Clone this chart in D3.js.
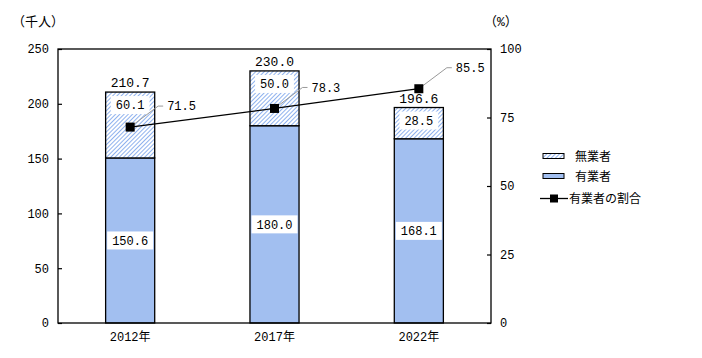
<!DOCTYPE html>
<html><head><meta charset="utf-8">
<script src="https://cdn.jsdelivr.net/npm/d3@7"></script>
<style>
body{margin:0;background:#fff;}
text{font-family:"Liberation Mono","Noto Sans CJK JP",monospace;font-size:12px;fill:#000;}
</style></head>
<body><svg id="c" width="702" height="358"></svg>
<script>
const categories = ["2012年","2017年","2022年"];
const employed = [150.6, 180.0, 168.1];
const unemployed = [60.1, 50.0, 28.5];
const totals = [210.7, 230.0, 196.6];
const ratio = [71.5, 78.3, 85.5];
const leftTicks = [0,50,100,150,200,250];
const rightTicks = [0,25,50,75,100];
const seriesNames = ["無業者","有業者","有業者の割合"];

const svg = d3.select("#c");
const L=58, R=491, T=49, B=323;
const x = d3.scaleBand().domain(categories).range([L,R]).paddingInner(0.66).paddingOuter(0.33);
const y = d3.scaleLinear().domain([0,250]).range([B,T]);
const y2 = d3.scaleLinear().domain([0,100]).range([B,T]);

const defs = svg.append("defs");
const pat = defs.append("pattern").attr("id","hatchp").attr("patternUnits","userSpaceOnUse")
  .attr("width",3).attr("height",3).attr("patternTransform","rotate(45)");
pat.append("rect").attr("x",0).attr("y",0).attr("width",3).attr("height",3).attr("fill","#ffffff");
pat.append("rect").attr("x",0).attr("y",0).attr("width",1).attr("height",3).attr("fill","#8fb2ee");

const blue = "#a2bff0";
const bw = x.bandwidth();

// bars
const g = svg.append("g");
categories.forEach((c,i)=>{
  g.append("rect").attr("x",x(c)).attr("y",y(employed[i])).attr("width",bw).attr("height",B-y(employed[i]))
    .attr("fill",blue).attr("stroke","#000").attr("stroke-width",1.3);
  g.append("rect").attr("x",x(c)).attr("y",y(totals[i])).attr("width",bw).attr("height",y(employed[i])-y(totals[i]))
    .attr("fill","url(#hatchp)").attr("stroke","#000").attr("stroke-width",1.3);
});

// frame
svg.append("rect").attr("x",L).attr("y",T).attr("width",R-L).attr("height",B-T)
  .attr("fill","none").attr("stroke","#000").attr("stroke-width",1.3);

// axes
const ax = svg.append("g").attr("transform",`translate(${L},0)`)
  .call(d3.axisRight(y).tickValues(leftTicks).tickSize(4).tickFormat(d3.format("d")));
ax.select(".domain").remove();
ax.selectAll("text").attr("x",-9).attr("text-anchor","end");
const ax2 = svg.append("g").attr("transform",`translate(${R},0)`)
  .call(d3.axisLeft(y2).tickValues(rightTicks).tickSize(4).tickFormat(d3.format("d")));
ax2.select(".domain").remove();
ax2.selectAll("text").attr("x",9).attr("text-anchor","start");
[ax,ax2].forEach(a=>{a.selectAll("line").attr("stroke","#000").attr("stroke-width",1.2);
  a.selectAll("text").style("font-size","12px").style("font-family","Liberation Mono");});

const xa = svg.append("g").attr("transform",`translate(0,${B})`).call(d3.axisBottom(x).tickSize(0));
xa.select(".domain").remove();
xa.selectAll("text").attr("dy","1.25em").style("font-size","12px").style("font-family","Liberation Mono, Noto Sans CJK JP");

svg.append("text").attr("x",12).attr("y",26).style("font-size","13px").text("（千人）");
svg.append("text").attr("x",484).attr("y",26).style("font-size","13px").text("（%）");

// value labels inside bars
function boxLabel(cx,cy,txt){
  const w = txt.length*7.2+10;
  svg.append("rect").attr("x",cx-w/2).attr("y",cy-9).attr("width",w).attr("height",18).attr("fill","#fff");
  svg.append("text").attr("x",cx).attr("y",cy).attr("dy","0.35em").attr("text-anchor","middle").text(txt);
}
categories.forEach((c,i)=>{
  const cx = x(c)+bw/2;
  boxLabel(cx, y(employed[i]/2), employed[i].toFixed(1));
  boxLabel(cx, y(totals[i])+13, unemployed[i].toFixed(1));
  svg.append("text").attr("x",cx).attr("y",y(totals[i])-5).attr("text-anchor","middle")
    .style("font-size","13px").text(totals[i].toFixed(1));
});

// ratio line
const line = d3.line().x((d,i)=>x(categories[i])+bw/2).y(d=>y2(d));
svg.append("path").datum(ratio).attr("d",line).attr("fill","none").attr("stroke","#000").attr("stroke-width",1.3);
ratio.forEach((v,i)=>{
  const cx = x(categories[i])+bw/2, cy=y2(v);
  const ly = cy-21;
  svg.append("path").attr("d",`M${cx},${cy} L${cx+28},${ly} L${cx+33},${ly}`).attr("fill","none")
    .attr("stroke","#999").attr("stroke-width",1);
  svg.append("rect").attr("x",cx-4.5).attr("y",cy-4.5).attr("width",9).attr("height",9).attr("fill","#000");
  svg.append("text").attr("x",cx+37).attr("y",ly).attr("dy","0.35em").text(v.toFixed(1));
});

// legend
const lg = svg.append("g");
lg.append("rect").attr("x",543).attr("y",153.5).attr("width",21).attr("height",5).attr("fill","url(#hatchp)").attr("stroke","#000");
lg.append("rect").attr("x",543).attr("y",173.5).attr("width",21).attr("height",5).attr("fill",blue).attr("stroke","#000");
lg.append("line").attr("x1",540).attr("x2",568).attr("y1",198.5).attr("y2",198.5).attr("stroke","#000").attr("stroke-width",1.3);
lg.append("rect").attr("x",550).attr("y",194.5).attr("width",8).attr("height",8).attr("fill","#000");
lg.append("text").attr("x",575).attr("y",157).attr("dy","0.35em").style("font-family","Noto Sans CJK JP").text(seriesNames[0]);
lg.append("text").attr("x",575).attr("y",177).attr("dy","0.35em").style("font-family","Noto Sans CJK JP").text(seriesNames[1]);
lg.append("text").attr("x",569).attr("y",198.5).attr("dy","0.35em").style("font-family","Noto Sans CJK JP").text(seriesNames[2]);
</script></body></html>
